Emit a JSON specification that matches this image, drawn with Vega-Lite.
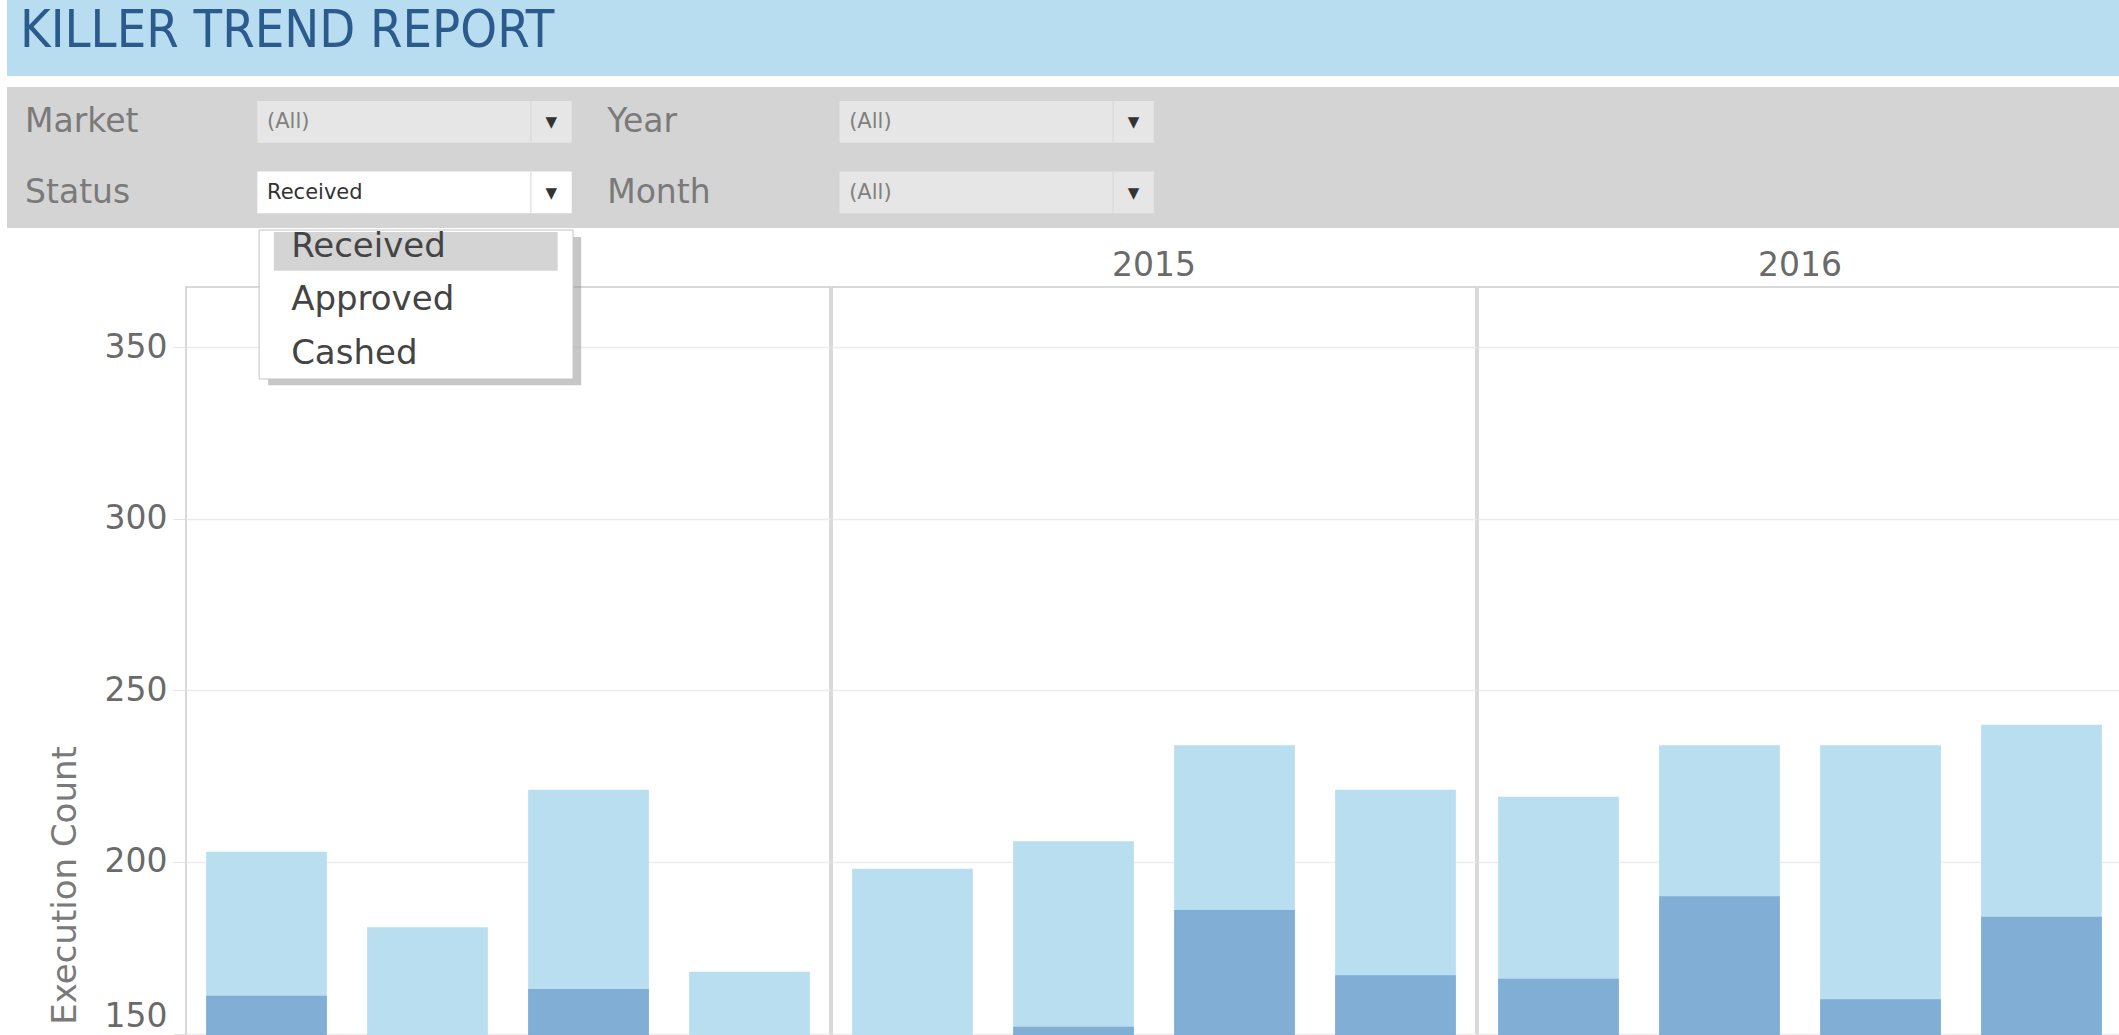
{
  "$schema": "https://vega.github.io/schema/vega-lite/v6.json",
  "padding": {"left": 7, "top": 0, "right": 0, "bottom": 0},
  "background": "white",
  "config": {"view": {"stroke": null}, "font": "DejaVu Sans"},
  "spacing": 0,
  "vconcat": [
    {
      "spacing": 11,
      "vconcat": [
        {
          "width": 2112,
          "height": 76,
          "view": {"fill": "#b9ddf0", "stroke": null},
          "data": {"values": [{"report": "KILLER TREND REPORT"}]},
          "mark": {"type": "text", "align": "left", "baseline": "alphabetic", "font": "DejaVu Sans Condensed, DejaVu Sans", "fontSize": 52, "fontWeight": 300, "color": "#2b5b8c", "clip": true},
          "encoding": {
            "text": {"field": "report"},
            "x": {"field": "report", "type": "nominal", "axis": null, "bandPosition": 0.0062, "scale": {"type": "band", "paddingInner": 0, "paddingOuter": 0}},
            "y": {"field": "report", "type": "nominal", "axis": null, "bandPosition": 0.62, "scale": {"type": "band", "paddingInner": 0, "paddingOuter": 0}}
          }
        },
        {
          "width": 2112,
          "height": 141,
          "view": {"fill": "#d4d4d4", "stroke": null},
          "data": {"values": [
            {"filter": "Market", "selection": "(All)", "col": "left", "row": "top", "open": false},
            {"filter": "Year", "selection": "(All)", "col": "right", "row": "top", "open": false},
            {"filter": "Status", "selection": "Received", "col": "left", "row": "bottom", "open": true},
            {"filter": "Month", "selection": "(All)", "col": "right", "row": "bottom", "open": false}
          ]},
          "layer": [
            {
              "mark": {"type": "text", "align": "left", "baseline": "middle", "fontSize": 33, "color": "#7a7a7a"},
              "encoding": {
                "x": {"field": "col", "type": "nominal", "axis": null, "bandPosition": 0.031, "scale": {"type": "band", "domain": ["left", "right"], "paddingInner": 0, "paddingOuter": 0.814, "align": 0}},
                "y": {"field": "row", "type": "nominal", "axis": null, "bandPosition": 0.5, "scale": {"type": "band", "domain": ["top", "bottom"], "paddingInner": 0, "paddingOuter": 0}},
                "text": {"field": "filter"}
              }
            },
            {
              "mark": {"type": "rect"},
              "encoding": {
                "x": {"field": "col", "type": "nominal", "axis": null, "bandPosition": 0.43},
                "x2": {"field": "col", "bandPosition": 0.97},
                "y": {"field": "row", "type": "nominal", "axis": null, "bandPosition": 0.2},
                "y2": {"field": "row", "bandPosition": 0.79},
                "color": {"condition": {"test": "datum.open === true", "value": "#ffffff"}, "value": "#e6e6e6"}
              }
            },
            {
              "mark": {"type": "rule", "color": "#d6d6d6", "strokeWidth": 1},
              "encoding": {
                "x": {"field": "col", "type": "nominal", "axis": null, "bandPosition": 0.9},
                "y": {"field": "row", "type": "nominal", "axis": null, "bandPosition": 0.2},
                "y2": {"field": "row", "bandPosition": 0.79}
              }
            },
            {
              "mark": {"type": "text", "align": "left", "baseline": "middle", "fontSize": 21},
              "encoding": {
                "x": {"field": "col", "type": "nominal", "axis": null, "bandPosition": 0.4467},
                "y": {"field": "row", "type": "nominal", "axis": null, "bandPosition": 0.5},
                "text": {"field": "selection"},
                "color": {"condition": {"test": "datum.open === true", "value": "#333333"}, "value": "#808080"}
              }
            },
            {
              "mark": {"type": "text", "text": "▼", "align": "center", "baseline": "middle", "fontSize": 15, "color": "#333333"},
              "encoding": {
                "x": {"field": "col", "type": "nominal", "axis": null, "bandPosition": 0.935},
                "y": {"field": "row", "type": "nominal", "axis": null, "bandPosition": 0.5}
              }
            }
          ]
        }
      ]
    },
    {
      "spacing": 0,
      "hconcat": [
        {
          "width": 41,
          "height": 10,
          "data": {"values": []},
          "mark": "point",
          "encoding": {},
          "view": {"stroke": null}
        },
        {
          "data": {"values": [
            {"year": 2014, "quarter": "Q1", "executions": 203, "subset": 161},
            {"year": 2014, "quarter": "Q2", "executions": 181, "subset": 142},
            {"year": 2014, "quarter": "Q3", "executions": 221, "subset": 163},
            {"year": 2014, "quarter": "Q4", "executions": 168, "subset": 139},
            {"year": 2015, "quarter": "Q1", "executions": 198, "subset": 144},
            {"year": 2015, "quarter": "Q2", "executions": 206, "subset": 152},
            {"year": 2015, "quarter": "Q3", "executions": 234, "subset": 186},
            {"year": 2015, "quarter": "Q4", "executions": 221, "subset": 167},
            {"year": 2016, "quarter": "Q1", "executions": 219, "subset": 166},
            {"year": 2016, "quarter": "Q2", "executions": 234, "subset": 190},
            {"year": 2016, "quarter": "Q3", "executions": 234, "subset": 160},
            {"year": 2016, "quarter": "Q4", "executions": 240, "subset": 184},
            {"year": 2014, "quarter": "Q1", "menu": "Status", "options": ["Received", "Approved", "Cashed"]}
          ]},
          "facet": {
            "column": {
              "field": "year",
              "type": "ordinal",
              "header": {
                "title": null,
                "labelFont": "DejaVu Sans",
                "labelFontSize": 33,
                "labelColor": "#6a6a6a",
                "labelBaseline": "alphabetic",
                "labelPadding": -81,
                "labelExpr": "datum.value == 2014 ? '' : datum.label"
              }
            }
          },
          "spacing": 0,
          "spec": {
            "width": 644,
            "height": 750,
            "view": {"stroke": "#cdcdcd", "strokeWidth": 1.5},
            "encoding": {
              "x": {"field": "quarter", "type": "ordinal", "axis": null, "scale": {"paddingInner": 0.25, "paddingOuter": 0.125}}
            },
            "layer": [
              {
                "transform": [{"filter": "isValid(datum.executions)"}],
                "mark": {"type": "bar", "color": "#b9def0", "clip": true},
                "encoding": {
                  "y": {
                    "field": "executions",
                    "type": "quantitative",
                    "title": "Execution Count",
                    "scale": {"domain": [149, 367.5], "nice": false, "zero": false},
                    "axis": {
                      "values": [150, 200, 250, 300, 350],
                      "domain": false,
                      "tickSize": 12,
                      "tickColor": "#e3e3e3",
                      "gridColor": "#ececec",
                      "gridWidth": 1.5,
                      "labelFont": "DejaVu Sans",
                      "labelFontSize": 33,
                      "labelColor": "#6a6a6a",
                      "labelPadding": 6,
                      "labelFlush": 5,
                      "titleFont": "DejaVu Sans",
                      "titleFontSize": 34,
                      "titleFontWeight": "normal",
                      "titleColor": "#7a7a7a",
                      "titlePadding": 22,
                      "titleY": 598
                    }
                  }
                }
              },
              {
                "transform": [{"filter": "isValid(datum.executions)"}],
                "mark": {"type": "bar", "color": "#80aed4", "clip": true},
                "encoding": {
                  "y": {"field": "subset", "type": "quantitative", "title": "Execution Count"}
                }
              },
              {
                "transform": [{"filter": "isValid(datum.options)"}],
                "mark": {"type": "rect", "color": "#8f8f8f", "opacity": 0.5},
                "encoding": {
                  "x": {"field": "quarter", "type": "ordinal", "bandPosition": 0.5135},
                  "x2": {"field": "quarter", "bandPosition": 3.106},
                  "y": {"datum": 382.1, "type": "quantitative"},
                  "y2": {"datum": 338.9}
                }
              },
              {
                "transform": [{"filter": "isValid(datum.options)"}],
                "mark": {"type": "rect", "fill": "#ffffff", "stroke": "#c4c4c4", "strokeWidth": 1},
                "encoding": {
                  "x": {"field": "quarter", "type": "ordinal", "bandPosition": 0.439},
                  "x2": {"field": "quarter", "bandPosition": 3.039},
                  "y": {"datum": 384.1, "type": "quantitative"},
                  "y2": {"datum": 340.7}
                }
              },
              {
                "transform": [{"filter": "isValid(datum.options)"}],
                "mark": {"type": "rect", "color": "#d4d4d4"},
                "encoding": {
                  "x": {"field": "quarter", "type": "ordinal", "bandPosition": 0.5607},
                  "x2": {"field": "quarter", "bandPosition": 2.911},
                  "y": {"datum": 383.5, "type": "quantitative"},
                  "y2": {"datum": 372.2}
                }
              },
              {
                "transform": [{"filter": "isValid(datum.options)"}],
                "mark": {"type": "text", "align": "left", "baseline": "middle", "fontSize": 34, "lineHeight": 53.5, "color": "#444444"},
                "encoding": {
                  "x": {"field": "quarter", "type": "ordinal", "bandPosition": 0.704},
                  "y": {"datum": 379.2, "type": "quantitative"},
                  "text": {"field": "options"}
                }
              }
            ]
          }
        }
      ]
    }
  ]
}
